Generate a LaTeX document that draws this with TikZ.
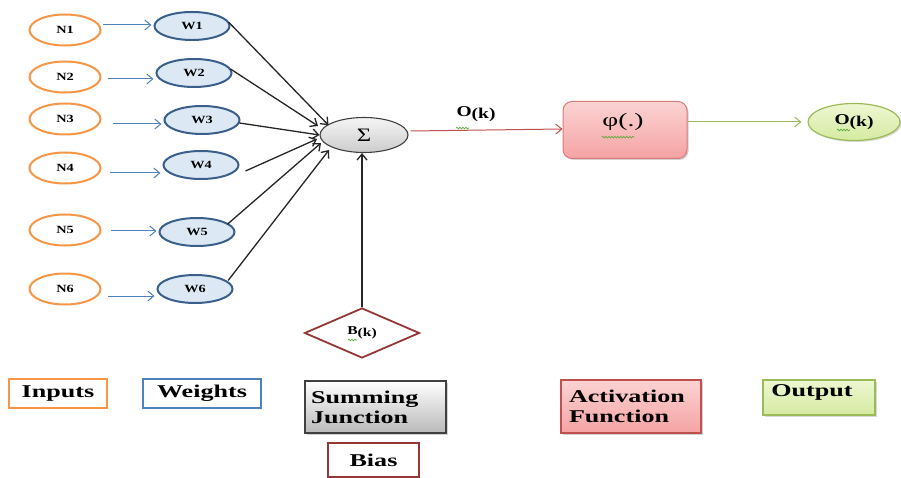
\documentclass[tikz,border=0pt]{standalone}
\usepackage{fontspec}
\setmainfont{Liberation Serif}
\newfontfamily\wideserif[FakeStretch=1.3]{Liberation Serif}
\newfontfamily\widerserif[FakeStretch=1.45]{Liberation Serif}
\usetikzlibrary{shapes.geometric,arrows.meta,shadows,decorations.pathmorphing}
\definecolor{inorange}{HTML}{F79646}
\definecolor{wtblue}{HTML}{4F81BD}
\definecolor{wtborder}{HTML}{3B5F8C}
\definecolor{wtfill}{HTML}{DCE9F4}
\definecolor{biasred}{HTML}{953735}
\definecolor{linkred}{HTML}{C0504D}
\definecolor{actborder}{HTML}{D97B7B}
\definecolor{acttop}{HTML}{FBD3D3}
\definecolor{actbot}{HTML}{F5A3A3}
\definecolor{outgreen}{HTML}{9BBB59}
\definecolor{outtop}{HTML}{EEF7D2}
\definecolor{outbot}{HTML}{D5EAA0}
\definecolor{sumborder}{HTML}{404040}
\definecolor{spellgreen}{HTML}{5CAA3A}
\tikzset{
  inputnode/.style={ellipse,draw=inorange,line width=2pt,fill=white,
    minimum width=71pt,minimum height=31pt,inner sep=0pt,
    font=\wideserif\bfseries\fontsize{11}{13}\selectfont},
  weightnode/.style={ellipse,draw=wtborder,line width=2pt,fill=wtfill,
    minimum width=75pt,minimum height=28pt,inner sep=0pt,
    font=\wideserif\bfseries\fontsize{11}{13}\selectfont},
  sumnode/.style={ellipse,draw=sumborder,line width=1.1pt,top color=gray!8,bottom color=gray!40,
    minimum width=88pt,minimum height=35pt,inner sep=0pt,
    font=\wideserif\fontsize{19}{21}\selectfont},
  biasnode/.style={diamond,draw=biasred,line width=1.8pt,fill=white,aspect=2.3,
    minimum width=115pt,minimum height=50pt,inner sep=0pt,
    font=\wideserif\bfseries\fontsize{12}{14}\selectfont},
  actnode/.style={rectangle,rounded corners=9pt,draw=actborder,line width=1pt,
    top color=acttop,bottom color=actbot,minimum width=124pt,minimum height=57pt,
    drop shadow={shadow xshift=1.5pt,shadow yshift=-1.5pt,opacity=0.35}},
  outnode/.style={ellipse,draw=outgreen,line width=1.2pt,top color=outtop,bottom color=outbot,
    minimum width=92pt,minimum height=37pt,inner sep=0pt,
    drop shadow={shadow xshift=1.5pt,shadow yshift=-1.5pt,opacity=0.3},
    font=\wideserif\bfseries\fontsize{15}{17}\selectfont},
  keybox/.style={rectangle,line width=2pt,inner sep=0pt,
    font=\widerserif\bfseries\fontsize{18}{20}\selectfont},
  feed/.style={draw=wtblue,line width=1pt,-{Straight Barb[length=6pt,width=10pt]},shorten >=2pt},
  link/.style={draw=black!85,line width=1.3pt,-{Straight Barb[length=6pt,width=10pt]}},
  spell/.style={draw=spellgreen,line width=0.7pt,decorate,
    decoration={snake,amplitude=0.8pt,segment length=3pt}}
}
\newcommand{\outlabel}{O\raisebox{-2pt}{(k)}}
\begin{document}
\begin{tikzpicture}[x=1pt,y=-1pt]
\useasboundingbox (0,0) rectangle (901,478);

% input neurons
\node[inputnode] (n1) at (65,30) {N1};
\node[inputnode] (n2) at (65,77) {N2};
\node[inputnode] (n3) at (65,119) {N3};
\node[inputnode] (n4) at (65,168) {N4};
\node[inputnode] (n5) at (65,230) {N5};
\node[inputnode] (n6) at (65,289) {N6};

% weights
\node[weightnode] (w1) at (192,26) {W1};
\node[weightnode] (w2) at (194,73) {W2};
\node[weightnode] (w3) at (202,120) {W3};
\node[weightnode] (w4) at (201,165) {W4};
\node[weightnode] (w5) at (197,232) {W5};
\node[weightnode] (w6) at (195,289) {W6};

% inputs feed their weights
\coordinate (f1) at (103,25);  \coordinate (g1) at (w1.west |- f1);
\coordinate (f2) at (108,79);  \coordinate (g2) at (w2.west |- f2);
\coordinate (f3) at (113,124); \coordinate (g3) at (w3.west |- f3);
\coordinate (f4) at (110,173); \coordinate (g4) at (w4.west |- f4);
\coordinate (f5) at (111,231); \coordinate (g5) at (w5.west |- f5);
\coordinate (f6) at (108,296); \coordinate (g6) at (w6.west |- f6);
\foreach \i in {1,...,6} { \draw[feed] (f\i) -- (g\i); }

% summing junction
\node[sumnode] (sum) at (364,135) {Σ};

% weighted inputs into the sum
\draw[link] (w1.east) ++(-2,-4) -- ([xshift=-4pt,yshift=-3pt]sum.north west);
\draw[link] ([xshift=-2pt,yshift=4pt]w2.east) -- (318,126);
\draw[link] ([xshift=-1pt,yshift=-3pt]w3.east) -- (sum.west);
\draw[link] ([xshift=6pt,yshift=-6pt]w4.east) -- (317,139);
\draw[link] ([xshift=3pt,yshift=-3pt]w5.north east) -- (321,143);
\draw[link] ([xshift=6pt,yshift=-2pt]w6.north east) -- (329,150);

% bias
\node[biasnode] (bias) at (362,333) {B\raisebox{-2pt}{(k)}};
\draw[link] (bias.north) -- (bias.north |- sum.south);
\draw[spell] ([xshift=-14pt,yshift=-7pt]bias.center) -- ++(9,0);

% summed signal to activation
\node[actnode] (act) at (625,130) {};
\node[font=\widerserif\fontsize{19}{21}\selectfont] (phi) at (623,122) {φ(.)};
\draw[spell] ([xshift=3pt,yshift=-3pt]phi.south west) -- ([xshift=-13pt,yshift=-3pt]phi.south east);
\draw[draw=linkred,line width=1pt,-{Straight Barb[length=6pt,width=10pt]}] (sum.east) ++(2,-4) -- ([yshift=1pt]act.west);
\node[font=\wideserif\bfseries\fontsize{15}{17}\selectfont] (vk) at (476,114) {\outlabel};
\draw[spell] ([xshift=3pt,yshift=-3pt]vk.south west) -- ++(13,0);

% output
\node[outnode] (out) at (854,122) {\outlabel};
\draw[spell] ([xshift=-17pt,yshift=-8pt]out.center) -- ++(13,0);
\draw[draw=outgreen,line width=1pt,-{Straight Barb[length=6pt,width=10pt]}] (act.east |- out) -- ([xshift=-6pt]out.west);

% legend
\node[keybox,draw=inorange,minimum width=98pt,minimum height=29pt] (kin) at (58,393.5) {Inputs};
\node[keybox,draw=wtblue,minimum width=118pt,minimum height=29pt] (kwt) at (202,393.5) {Weights};
\node[keybox,draw=sumborder,line width=1.4pt,top color=white,bottom color=gray!55,
      minimum width=141pt,minimum height=52pt,text width=129pt,align=left,
      drop shadow={shadow xshift=1.5pt,shadow yshift=-1.5pt,opacity=0.35}] (ksum) at (375.5,407)
      {Summing\\Junction};
\node[keybox,draw=biasred,minimum width=91pt,minimum height=34pt] (kbias) at (373.5,460) {Bias};
\node[keybox,draw=linkred,line width=1.4pt,top color=acttop,bottom color=actbot,
      minimum width=140pt,minimum height=53pt,text width=124pt,align=left,
      drop shadow={shadow xshift=1.5pt,shadow yshift=-1.5pt,opacity=0.35}] (kact) at (631,406.5)
      {Activation\\Function};
\node[keybox,draw=outgreen,line width=1.4pt,top color=outtop,bottom color=outbot,
      minimum width=112pt,minimum height=35pt,
      drop shadow={shadow xshift=1.5pt,shadow yshift=-1.5pt,opacity=0.3}] (kout) at (819,397.5) {};
\node[font=\widerserif\bfseries\fontsize{18}{20}\selectfont] (kouttext) at (812,392) {Output};
\end{tikzpicture}
\end{document}
